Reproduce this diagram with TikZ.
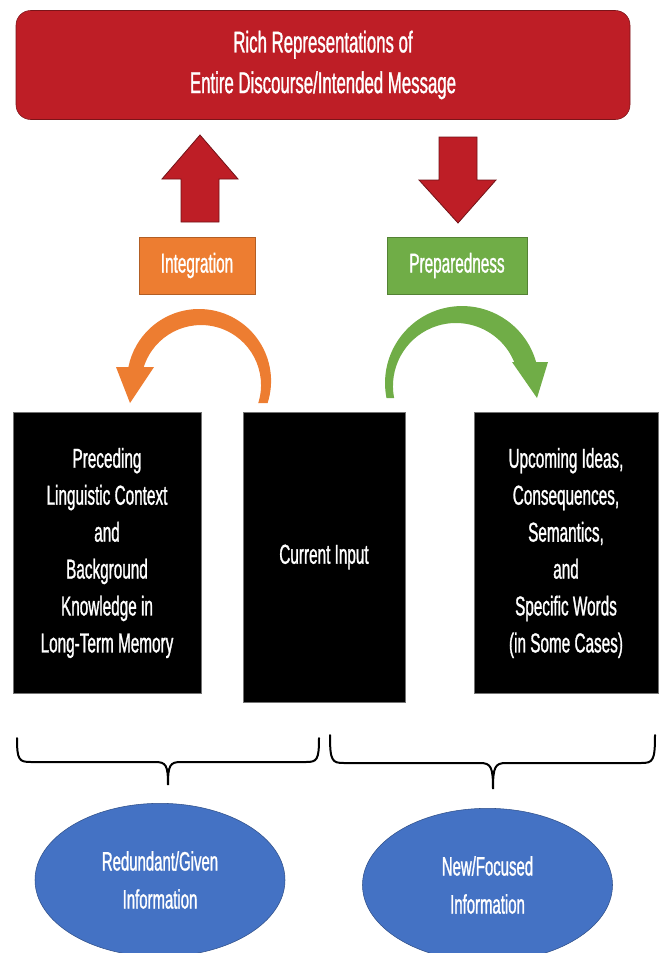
\documentclass[tikz,border=0pt]{standalone}
\usepackage{fontspec}
\setmainfont[FakeStretch=0.56, FakeBold=1]{Liberation Sans}
\usetikzlibrary{shapes.geometric}

\definecolor{richred}{RGB}{190,30,38}
\definecolor{integorange}{RGB}{237,125,49}
\definecolor{prepgreen}{RGB}{112,173,71}
\definecolor{infoblue}{RGB}{68,114,196}

\begin{document}
\begin{tikzpicture}[x=0.75pt, y=-0.75pt,
	richbox/.style={rectangle, rounded corners=11pt, fill=richred, draw=richred!65!black, text=white, align=center, inner sep=0pt, minimum width=460.5pt, minimum height=81.75pt, font=\fontsize{22.5}{30.5}\selectfont},
	labelbox/.style={rectangle, text=white, inner sep=0pt, minimum height=42.75pt, font=\fontsize{20.5}{27.5}\selectfont},
	blackbox/.style={rectangle, fill=black, draw=black!55, text=white, align=center, inner sep=0pt, font=\fontsize{20.5}{27.7}\selectfont},
	infoellipse/.style={ellipse, fill=infoblue, draw=infoblue!70!black, text=white, align=center, inner sep=0pt, minimum width=187.5pt, minimum height=115pt, font=\fontsize{20}{28.5}\selectfont},
	blockarrow/.style={fill=richred, draw=richred!60!black, line width=0.6pt},
	bracket/.style={line width=1.5pt, line cap=round}
	]
	\useasboundingbox (0,0) rectangle (658,953);
	
	% top box
	\node (rich) [richbox] at (323,65) {Rich Representations of\\Entire Discourse/Intended Message};
	
	% up and down arrows
	\draw [blockarrow] (181,222) -- (181,179) -- (162,179) -- (200,135) -- (238,179) -- (219,179) -- (219,222) -- cycle;
	\draw [blockarrow] (439,137) -- (477,137) -- (477,180) -- (496,180) -- (458,223) -- (419,180) -- (439,180) -- cycle;
	
	% labels
	\node (integ) [labelbox, fill=integorange, draw=integorange!75!black, minimum width=87pt] at (197,265.5) {Integration};
	\node (prep) [labelbox, fill=prepgreen, draw=prepgreen!75!black, minimum width=105pt] at (457,265.5) {Preparedness};
	
	% curved arrows
	\fill [integorange] (258.2,403) -- (267.6,403) arc[start angle=17.8, end angle=-168.8, radius=72]
		-- (116,367) -- (130,403) -- (154,367) -- (143.8,367) arc[start angle=-162.5, end angle=17.5, radius=60] -- cycle;
	\fill [prepgreen] (394.2,398) -- (386.5,398) arc[start angle=168.8, end angle=344.2, radius=77]
		-- (548,362) -- (537,398) -- (512,362) -- (514.2,362) arc[start angle=337.6, end angle=169, radius=63] -- cycle;
	
	% black boxes
	\node (preceding) [blackbox, minimum width=141pt, minimum height=210.75pt] at (107,553) {Preceding\\Linguistic Context\\and\\Background\\Knowledge in\\Long-Term Memory};
	\node (current) [blackbox, minimum width=121.5pt, minimum height=217.5pt] at (324,557) {Current Input};
	\node (upcoming) [blackbox, minimum width=138pt, minimum height=210.75pt] at (566,553) {Upcoming Ideas,\\Consequences,\\Semantics,\\and\\Specific Words\\(in Some Cases)};
	
	% braces
	\draw [bracket] (17,738) .. controls (17,760) and (19,762) .. (31,762) -- (155,762) .. controls (166,762) and (168,765) .. (168,785) .. controls (168,765) and (170,762) .. (181,762) -- (306,762) .. controls (317,762) and (319,760) .. (319,738);
	\draw [bracket] (330,735) .. controls (330,761) and (332,763) .. (344,763) -- (480,763) .. controls (491,763) and (493,767) .. (493,789) .. controls (493,767) and (495,763) .. (506,763) -- (641,763) .. controls (653,763) and (655,761) .. (655,735);
	
	% ellipses
	\node (given) [infoellipse] at (160,880) {Redundant/Given\\Information};
	\node (focused) [infoellipse] at (487.5,885) {New/Focused\\Information};
	
\end{tikzpicture}
\end{document}
